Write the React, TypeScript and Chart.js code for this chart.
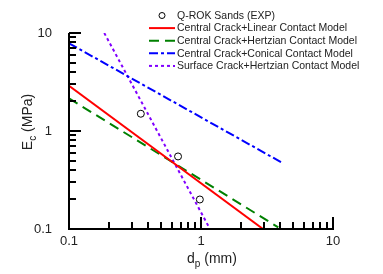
import React, { useEffect, useRef } from "react";
import { Chart, registerables } from "chart.js";

Chart.register(...registerables);

// Experimental data (Q-ROK Sands)
const expX = [0.35, 0.67, 0.98];
const expY = [1.5, 0.55, 0.2];

// Model lines (endpoints, log-log straight lines)
const linearX = [0.1, 2.95];
const linearY = [2.9, 0.1];

const hertzX = [0.1, 3.85];
const hertzY = [2.15, 0.104];

const conicalX = [0.1, 4.05];
const conicalY = [7.85, 0.48];

const surfaceX = [0.185, 1.17];
const surfaceY = [10, 0.1];

const seriesLabels = [
  "Q-ROK Sands (EXP)",
  "Central Crack+Linear Contact Model",
  "Central Crack+Hertzian Contact Model",
  "Central Crack+Conical Contact Model",
  "Surface Crack+Hertzian Contact Model",
];

const xTickLabels = [0.1, 1, 10];
const yTickLabels = [0.1, 1, 10];
const minorMultipliers = [2, 3, 4, 5, 6, 7, 8, 9];

const FONT = "Arial, 'Liberation Sans', sans-serif";

const pts = (xs: number[], ys: number[]) => xs.map((x, i) => ({ x, y: ys[i] }));

const isMajor = (v: number, list: number[]) =>
  list.some((m) => Math.abs(Math.log10(v) - Math.log10(m)) < 1e-6);

const tickSet = (majors: number[]) => {
  const out: { v: number; major: boolean }[] = [];
  majors.forEach((m, i) => {
    out.push({ v: m, major: true });
    if (i < majors.length - 1) minorMultipliers.forEach((k) => out.push({ v: m * k, major: false }));
  });
  return out;
};

const axesPlugin = {
  id: "customAxes",
  afterDraw(chart: any) {
    const { ctx, chartArea } = chart;
    const xs = chart.scales.x;
    const ys = chart.scales.y;
    const L = Math.round(chartArea.left);
    const B = Math.round(chartArea.bottom);
    const T = Math.round(chartArea.top);
    const R = Math.round(chartArea.right);
    ctx.save();
    ctx.globalAlpha = 1;
    ctx.globalCompositeOperation = "source-over";
    ctx.fillStyle = "#000";
    // axis lines
    ctx.fillRect(L - 1, T, 2, B - T + 1);
    ctx.fillRect(L - 1, B - 1, R - L + 2, 2);
    // ticks pointing inward
    tickSet(xTickLabels).forEach((t) => {
      const px = Math.round(xs.getPixelForValue(t.v));
      const len = t.major ? 12 : 7;
      ctx.fillRect(px - 1, B - len, 2, len);
    });
    tickSet(yTickLabels).forEach((t) => {
      const py = Math.round(ys.getPixelForValue(t.v));
      const len = t.major ? 12 : 7;
      ctx.fillRect(L, py - 1, len, 2);
    });
    ctx.restore();
  },
};

const labelsPlugin = {
  id: "customLabels",
  afterDraw(chart: any) {
    const { ctx, chartArea } = chart;
    ctx.save();
    // axis titles with subscripts
    ctx.fillStyle = "#222";
    ctx.textBaseline = "alphabetic";
    const big = `14px ${FONT}`;
    const small = `10px ${FONT}`;
    const drawSub = (x: number, y: number, main: string, sub: string, rest: string) => {
      ctx.font = big;
      const w1 = ctx.measureText(main).width;
      const w3 = ctx.measureText(rest).width;
      ctx.font = small;
      const w2 = ctx.measureText(sub).width;
      const total = w1 + w2 + w3;
      const sx = x - total / 2;
      ctx.font = big;
      ctx.textAlign = "left";
      ctx.fillText(main, sx, y);
      ctx.font = small;
      ctx.fillText(sub, sx + w1, y + 4);
      ctx.font = big;
      ctx.fillText(rest, sx + w1 + w2, y);
    };
    drawSub((chartArea.left + chartArea.right) / 2 + 11, 263, "d", "p", " (mm)");
    ctx.save();
    ctx.translate(32, 122);
    ctx.rotate(-Math.PI / 2);
    drawSub(0, 0, "E", "c", " (MPa)");
    ctx.restore();

    // legend
    const rowY0 = 15.5;
    const rowStep = 12.6;
    const symL = 149;
    const symR = 175;
    ctx.font = `10.5px ${FONT}`;
    ctx.textBaseline = "middle";
    ctx.textAlign = "left";
    chart.data.datasets.forEach((ds: any, i: number) => {
      const y = rowY0 + rowStep * i;
      ctx.save();
      if (ds.showLine) {
        ctx.strokeStyle = ds.borderColor;
        ctx.lineWidth = ds.borderWidth;
        ctx.setLineDash(ds.borderDash || []);
        ctx.beginPath();
        ctx.moveTo(symL, y);
        ctx.lineTo(symR, y);
        ctx.stroke();
      } else {
        ctx.strokeStyle = "#000";
        ctx.lineWidth = 1;
        ctx.beginPath();
        ctx.arc(162, y, 3, 0, Math.PI * 2);
        ctx.stroke();
      }
      ctx.restore();
      ctx.fillStyle = "#222";
      ctx.fillText(ds.label, 177, y + 0.5);
    });
    ctx.restore();
  },
};

export default function App() {
  const ref = useRef<HTMLCanvasElement | null>(null);
  useEffect(() => {
    if (!ref.current) return;
    const lineDs = (label: string, data: any, color: string, dash: number[]) => ({
      label,
      data,
      showLine: true,
      borderColor: color,
      backgroundColor: color,
      borderWidth: 2,
      borderDash: dash,
      pointRadius: 0,
      fill: false,
      tension: 0,
    });
    const chart = new Chart(ref.current, {
      type: "scatter",
      data: {
        datasets: [
          {
            label: seriesLabels[0],
            data: pts(expX, expY),
            showLine: false,
            pointStyle: "circle",
            pointRadius: 3.5,
            pointBorderWidth: 1,
            pointBorderColor: "#000",
            pointBackgroundColor: "rgba(255,255,255,0)",
          } as any,
          lineDs(seriesLabels[1], pts(linearX, linearY), "#ff0000", []),
          lineDs(seriesLabels[2], pts(hertzX, hertzY), "#008000", [10, 6]),
          lineDs(seriesLabels[3], pts(conicalX, conicalY), "#0000ff", [9, 3, 3, 3]),
          lineDs(seriesLabels[4], pts(surfaceX, surfaceY), "#8000ff", [3, 3]),
        ],
      },
      options: {
        animation: false,
        responsive: true,
        maintainAspectRatio: false,
        layout: { padding: { left: 0, right: 50, top: 33, bottom: 0 } },
        plugins: { legend: { display: false }, tooltip: { enabled: false } },
        scales: {
          x: {
            type: "logarithmic",
            min: 0.1,
            max: 10,
            border: { display: false },
            grid: { display: false, drawTicks: false },
            afterFit: (s: any) => {
              s.height = 45;
            },
            ticks: {
              autoSkip: false,
              maxRotation: 0,
              padding: 5,
              color: "#222",
              font: { family: FONT, size: 13 },
              callback: (v: any) => (isMajor(Number(v), xTickLabels) ? String(Number(v)) : ""),
            },
          },
          y: {
            type: "logarithmic",
            min: 0.1,
            max: 10,
            border: { display: false },
            grid: { display: false, drawTicks: false },
            afterFit: (s: any) => {
              s.width = 69;
            },
            ticks: {
              autoSkip: false,
              padding: 17,
              color: "#222",
              font: { family: FONT, size: 13 },
              callback: (v: any) => (isMajor(Number(v), yTickLabels) ? String(Number(v)) : ""),
            },
          },
        },
      },
      plugins: [axesPlugin, labelsPlugin],
    });
    return () => chart.destroy();
  }, []);
  return (
    <div style={{ position: "absolute", left: 0, top: 0, width: 383, height: 274, background: "#fff" }}>
      <canvas ref={ref} />
    </div>
  );
}
